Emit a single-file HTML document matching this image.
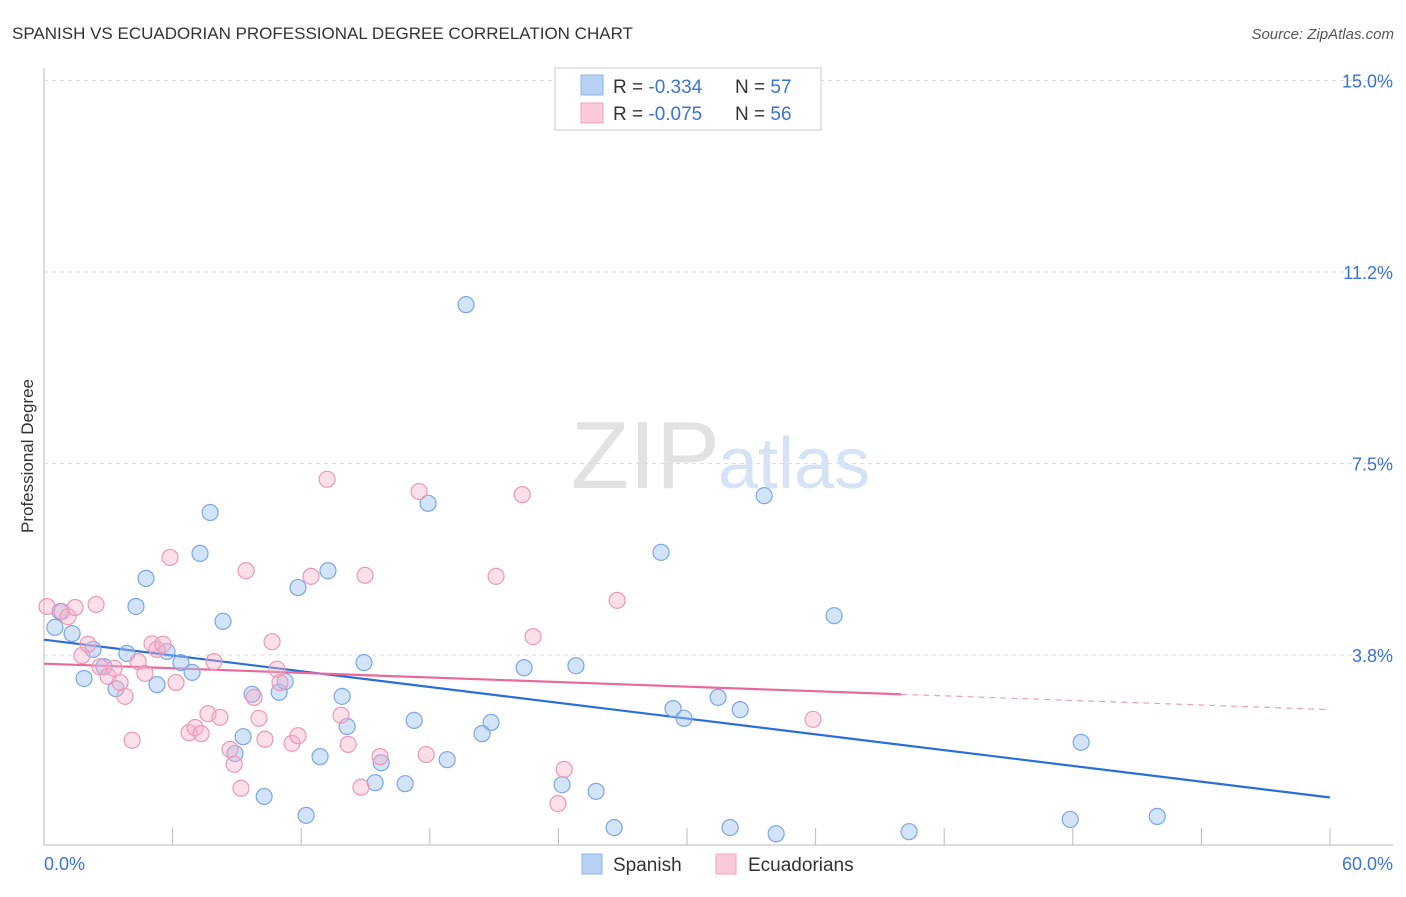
<!DOCTYPE html>
<html><head><meta charset="utf-8"><style>
body{margin:0;background:#fff;font-family:"Liberation Sans",sans-serif}
svg text{font-family:"Liberation Sans",sans-serif}
</style></head><body>
<svg id="c" width="1406" height="892" xmlns="http://www.w3.org/2000/svg">
<text x="12" y="39" font-size="17" fill="#333">SPANISH VS ECUADORIAN PROFESSIONAL DEGREE CORRELATION CHART</text>
<text x="1394" y="39" font-size="15" fill="#555" font-style="italic" text-anchor="end">Source: ZipAtlas.com</text>
<text x="720" y="488" font-size="96" fill="#e2e2e2" text-anchor="end" font-family="Liberation Serif">ZIP</text>
<text x="718" y="488" font-size="72" fill="#d6e3f5">atlas</text>
<text transform="translate(33,456) rotate(-90)" font-size="17" fill="#333" text-anchor="middle">Professional Degree</text>
<g id="grid"></g><g id="trend"></g><g id="pts"></g>
<g>
<rect x="555" y="68" width="266" height="62" fill="#fff" stroke="#ccc"/>
<rect x="581" y="75" width="22" height="20" fill="#b7d2f5" stroke="#8ab4ea"/>
<rect x="581" y="103" width="22" height="20" fill="#fcc9d9" stroke="#f1a2bd"/>
<text x="613" y="93" font-size="19" fill="#333">R = <tspan fill="#3b73d6">-0.334</tspan><tspan x="735">N = </tspan><tspan fill="#3b73d6">57</tspan></text>
<text x="613" y="120" font-size="19" fill="#333">R = <tspan fill="#3b73d6">-0.075</tspan><tspan x="735">N = </tspan><tspan fill="#3b73d6">56</tspan></text>
</g>
<g>
<rect x="582" y="854" width="20" height="20" fill="#b7d2f5" stroke="#8ab4ea"/>
<text x="613" y="871" font-size="19" fill="#333">Spanish</text>
<rect x="716" y="854" width="20" height="20" fill="#fcc9d9" stroke="#f1a2bd"/>
<text x="748" y="871" font-size="19" fill="#333">Ecuadorians</text>
</g>
</svg>
<script>
const yTicks=[15,11.25,7.5,3.75];
const yTickLabels=["15.0%","11.2%","7.5%","3.8%"];
const xTicks=[0,6,12,18,24,30,36,42,48,54,60];
const blueX=[0.51,0.75,1.31,1.87,2.29,2.80,3.36,3.87,4.29,4.76,5.27,5.74,6.39,6.91,7.28,7.75,8.35,8.91,9.29,9.71,10.27,10.97,11.25,11.85,12.23,12.88,13.25,13.91,14.14,14.93,15.45,15.73,16.85,17.27,17.92,18.81,19.69,20.44,20.86,22.40,24.17,24.82,25.76,26.60,28.79,29.35,29.86,31.45,32.01,32.48,33.60,34.16,36.86,40.36,47.88,48.39,51.94];
const blueY=[4.29,4.60,4.17,3.29,3.86,3.52,3.09,3.78,4.70,5.25,3.17,3.82,3.60,3.41,5.74,6.54,4.41,1.82,2.15,2.98,0.98,3.02,3.23,5.07,0.61,1.76,5.40,2.94,2.35,3.60,1.25,1.64,1.23,2.47,6.72,1.70,10.61,2.21,2.43,3.50,1.21,3.54,1.08,0.37,5.76,2.70,2.51,2.92,0.37,2.68,6.87,0.25,4.52,0.29,0.53,2.04,0.59];
const pinkX=[0.14,0.84,1.12,1.45,1.77,2.05,2.43,2.61,2.99,3.27,3.55,3.78,4.11,4.39,4.71,5.04,5.27,5.55,5.88,6.16,6.77,7.05,7.33,7.65,7.93,8.21,8.68,8.87,9.19,9.43,9.80,10.03,10.31,10.64,10.87,11.01,11.57,11.85,12.46,13.21,13.86,14.19,14.79,14.98,15.68,17.50,17.83,21.09,22.31,22.82,23.98,24.27,26.74,35.88];
const pinkY=[4.70,4.60,4.50,4.68,3.74,3.96,4.74,3.52,3.33,3.49,3.21,2.94,2.08,3.62,3.39,3.97,3.86,3.96,5.66,3.21,2.23,2.33,2.21,2.60,3.62,2.53,1.90,1.61,1.14,5.40,2.92,2.51,2.10,4.01,3.47,3.21,2.02,2.17,5.29,7.19,2.57,2.00,1.16,5.31,1.76,6.95,1.80,5.29,6.89,4.11,0.84,1.51,4.82,2.49];
const blueTrend=[4.05,0.96];
const pinkTrend=[3.58,2.68];
const pinkSolidEnd=40;
const NS="http://www.w3.org/2000/svg";
const X=v=>44+v*(1286/60), Y=v=>846.5-v*51.07;
function mk(p,t,a){const e=document.createElementNS(NS,t);for(const k in a)e.setAttribute(k,a[k]);p.appendChild(e);return e;}
const g=document.getElementById('grid'),tr=document.getElementById('trend'),pg=document.getElementById('pts'),svg=document.getElementById('c');
yTicks.forEach((v,i)=>{
 const l=mk(g,'line',{x1:44,x2:1393,y1:Y(v),y2:Y(v),stroke:'#ddd','stroke-dasharray':'4,4'});
 
 
 const t=mk(g,'text',{x:1393,y:Y(v)+7,'font-size':18,fill:'#3b73d6','text-anchor':'end'});t.textContent=yTickLabels[i];
 
 
});
mk(g,'line',{x1:44,x2:44,y1:68,y2:845,stroke:'#bbb'});
mk(g,'line',{x1:44,x2:1393,y1:845,y2:845,stroke:'#bbb'});
xTicks.forEach(v=>{const l=mk(g,'line',{x1:X(v),x2:X(v),y1:828,y2:845,stroke:'#bbb'});
 
 });
let t0=mk(g,'text',{x:44,y:870,'font-size':18,fill:'#3b73d6'});t0.textContent='0.0%';


let t1=mk(g,'text',{x:1393,y:870,'font-size':18,fill:'#3b73d6','text-anchor':'end'});t1.textContent='60.0%';


const pAt=x=>pinkTrend[0]+(pinkTrend[1]-pinkTrend[0])*x/60;
function dots(xs,ys,fill,stroke,name){xs.forEach((x,i)=>{const c=mk(pg,'circle',{cx:X(x),cy:Y(ys[i]),r:8,fill:fill,stroke:stroke,'stroke-width':1.2});
 
 });}
dots(blueX,blueY,'rgba(160,196,240,0.45)','#7aa7e4','spanish-point');
dots(pinkX,pinkY,'rgba(247,175,200,0.4)','#ec98b7','ecuadorian-point');
let bl=mk(tr,'line',{x1:X(0),y1:Y(blueTrend[0]),x2:X(60),y2:Y(blueTrend[1]),stroke:'#2a6ed8','stroke-width':2.2});


let pl=mk(tr,'line',{x1:X(0),y1:Y(pAt(0)),x2:X(pinkSolidEnd),y2:Y(pAt(pinkSolidEnd)),stroke:'#e8699a','stroke-width':2.2});


let pd=mk(tr,'line',{x1:X(pinkSolidEnd),y1:Y(pAt(pinkSolidEnd)),x2:X(60),y2:Y(pAt(60)),stroke:'#eaa0bd','stroke-width':1.2,'stroke-dasharray':'6,5'});


</script>
</body></html>
